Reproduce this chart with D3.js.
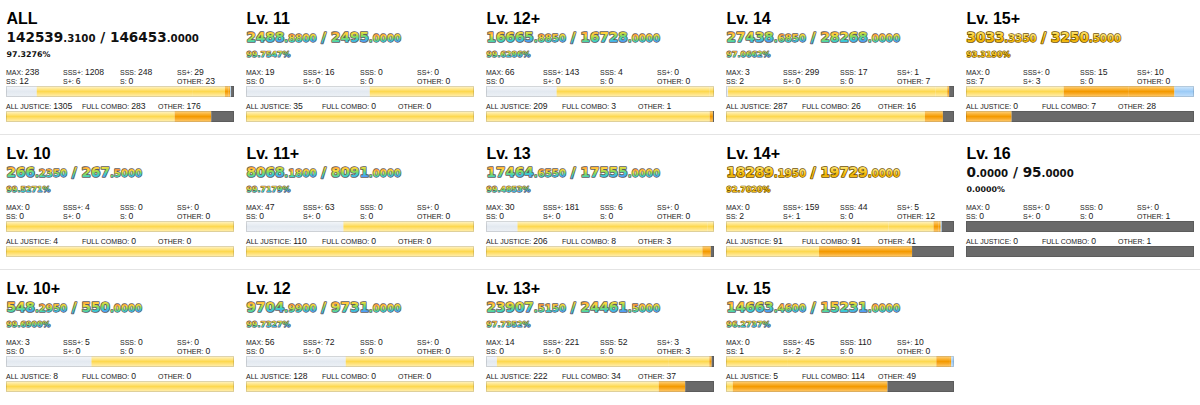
<!DOCTYPE html>
<html><head><meta charset="utf-8">
<script src="https://cdn.jsdelivr.net/npm/d3@7"></script>
<style>
html,body{margin:0;padding:0;background:#fff;}
svg{display:block;}
text{white-space:pre;}
</style></head><body>
<svg id="chart" width="1200" height="405"></svg>
<script>
// ---------- data ----------
const levels     = ["ALL","Lv. 11","Lv. 12+","Lv. 14","Lv. 15+","Lv. 10","Lv. 11+","Lv. 13","Lv. 14+","Lv. 16","Lv. 10+","Lv. 12","Lv. 13+","Lv. 15"];
const scores     = ["142539.3100","2488.8800","16665.8850","27438.6850","3033.3350","266.2350","8068.1800","17464.6550","18289.1950","0.0000","548.2950","9704.9900","23907.5150","14663.4600"];
const maxScores  = ["146453.0000","2495.0000","16728.0000","28268.0000","3250.5000","267.5000","8091.0000","17555.0000","19729.0000","95.0000","550.0000","9731.0000","24461.5000","15231.0000"];
const percents   = ["97.3276%","99.7547%","99.6286%","97.0662%","93.3190%","99.5271%","99.7179%","99.4853%","92.7020%","0.0000%","99.6900%","99.7327%","97.7352%","96.2737%"];
const textStyles = ["plain","rainbow","rainbow","rainbow","gold","rainbow","rainbow","rainbow","gold","plain","rainbow","rainbow","rainbow","rainbow"];

const rankLabels = ["MAX","SSS+","SSS","SS+","SS","S+","S","OTHER"];
const rankMAX    = [238,19,66,3,0,0,47,30,0,0,3,56,14,0];
const rankSSSp   = [1208,16,143,299,0,4,63,181,159,0,5,72,221,45];
const rankSSS    = [248,0,4,17,15,0,0,6,44,0,0,0,52,110];
const rankSSp    = [29,0,0,1,10,0,0,0,5,0,0,0,3,10];
const rankSS     = [12,0,0,2,7,0,0,0,2,0,0,0,0,1];
const rankSp     = [6,0,0,0,3,0,0,0,1,0,0,0,0,2];
const rankS      = [0,0,0,0,0,0,0,0,0,0,0,0,0,0];
const rankOTHER  = [23,0,0,7,0,0,0,0,12,1,0,0,3,0];
const rankColors = ["gBlue","gYellow","gYellow","gOrange","gOrange","gSky","gGreen","gGray"];

const lampLabels = ["ALL JUSTICE","FULL COMBO","OTHER"];
const lampAJ     = [1305,35,209,287,0,4,110,206,91,0,8,128,222,5];
const lampFC     = [283,0,3,26,7,0,0,8,91,0,0,0,34,114];
const lampOTHER  = [176,0,1,16,28,0,0,3,41,1,0,0,37,49];
const lampColors = ["gYellow","gOrange","gGray"];

// ---------- layout ----------
const svg = d3.select("#chart");
const colW = 240, rowH = 135, nCols = 5;
const barX0 = 6, barX1 = 234, barH = 11;

const defs = svg.append("defs");
function vGrad(id, stops){
  const g = defs.append("linearGradient").attr("id", id).attr("x1",0).attr("y1",0).attr("x2",0).attr("y2",1);
  stops.forEach(s => g.append("stop").attr("offset", s[0]).attr("stop-color", s[1]));
}
vGrad("gYellow", [[0,"#fff6d2"],[0.3,"#ffe584"],[0.5,"#fdd850"],[0.7,"#ffe27a"],[1,"#fff1bc"]]);
vGrad("gOrange", [[0,"#ffd585"],[0.3,"#f9b030"],[0.5,"#f49a00"],[0.7,"#f8aa28"],[1,"#ffd07a"]]);
vGrad("gBlue",   [[0,"#f5f8fb"],[0.5,"#e3e9f0"],[1,"#edf1f6"]]);
vGrad("gSky",    [[0,"#d4eafd"],[0.5,"#9ccbf6"],[1,"#c6e1fb"]]);
vGrad("gGreen",  [[0,"#d8f5c8"],[0.5,"#8fd86a"],[1,"#cdeebb"]]);
vGrad("gGray",   [[0,"#6a6a6a"],[1,"#6a6a6a"]]);
(function(){
  const g = defs.append("linearGradient").attr("id","gRainbow").attr("x1",0).attr("y1",0).attr("x2",0.3).attr("y2",1);
  [[0,"#ff4f4f"],[0.2,"#ff9a3a"],[0.4,"#ffd83a"],[0.6,"#8edc52"],[0.8,"#38cdd0"],[1,"#5b8dff"]]
    .forEach(s => g.append("stop").attr("offset", s[0]).attr("stop-color", s[1]));
  const h = defs.append("linearGradient").attr("id","gGold").attr("x1",0).attr("y1",0).attr("x2",0).attr("y2",1);
  [[0,"#fff0a0"],[0.45,"#f8cc2a"],[0.7,"#eeb000"],[1,"#ffd95a"]]
    .forEach(s => h.append("stop").attr("offset", s[0]).attr("stop-color", s[1]));
})();

function styleText(sel, style, sw){
  if (style === "rainbow") sel.attr("fill","url(#gRainbow)").attr("stroke","#5e5e5e").attr("stroke-width",sw).attr("paint-order","stroke").attr("stroke-linejoin","round");
  else if (style === "gold") sel.attr("fill","url(#gGold)").attr("stroke","#6e5000").attr("stroke-width",sw).attr("paint-order","stroke").attr("stroke-linejoin","round");
  else sel.attr("fill","#111");
}

// separators
[1,2].forEach(r => svg.append("line").attr("x1",0).attr("x2",1200)
  .attr("y1", r*rowH - 0.5).attr("y2", r*rowH - 0.5).attr("stroke","#e4e4e4").attr("stroke-width",1));

const scoreFont = "'DejaVu Sans', Verdana, sans-serif";
const uiFont = "'Liberation Sans', Arial, Helvetica, sans-serif";

levels.forEach((lv, i) => {
  const col = i % nCols, row = Math.floor(i / nCols);
  const g = svg.append("g").attr("transform", `translate(${col*colW},${row*rowH})`);
  const st = textStyles[i];

  // title
  g.append("text").attr("x",6.5).attr("y",23.5).attr("font-family",uiFont).attr("font-weight","bold")
    .attr("font-size",16).attr("fill","#000").text(lv);

  // score line
  const [si, sd] = scores[i].split(".");
  const [mi, md] = maxScores[i].split(".");
  const pieces = [[si,13.6],["."+sd,10.2],[" / ",13.6],[mi,13.6],["."+md,10.2]];
  let x = 6.5;
  pieces.forEach(p => {
    const t = g.append("text").attr("x",x).attr("y",42).attr("font-family",scoreFont).attr("font-weight","bold")
      .attr("font-size",p[1]).text(p[0]);
    styleText(t, st, p[1] > 11 ? 1.6 : 1.3);
    x += t.node().getComputedTextLength();
  });

  // percent
  const pt = g.append("text").attr("x",6.5).attr("y",56.5).attr("font-family",scoreFont).attr("font-weight","bold")
    .attr("font-size",7.9).text(percents[i]);
  styleText(pt, st, 1.1);

  // rank stats
  const rankVals = [rankMAX[i],rankSSSp[i],rankSSS[i],rankSSp[i],rankSS[i],rankSp[i],rankS[i],rankOTHER[i]];
  const statCols = [6,63,120,177];
  rankLabels.forEach((lab, k) => {
    const t = g.append("text").attr("x", statCols[k%4]).attr("y", k < 4 ? 75 : 83.5)
      .attr("font-family", uiFont).attr("fill","#1a1a1a");
    t.append("tspan").attr("font-size",7).text(lab + ": ");
    t.append("tspan").attr("font-size",8.6).text(rankVals[k]);
  });

  function drawBar(vals, colors, y){
    const total = d3.sum(vals);
    const xs = d3.scaleLinear().domain([0,total]).range([barX0, barX1]);
    const cum = d3.cumsum([0].concat(vals));
    const segs = vals.map((v,k) => ({v, c: colors[k], a: cum[k], b: cum[k+1]})).filter(d => d.v > 0);
    g.append("rect").attr("x",barX0).attr("y",y).attr("width",barX1-barX0).attr("height",barH).attr("fill","#f2f2f2");
    g.selectAll(null).data(segs).enter().append("rect")
      .attr("x", d => xs(d.a)).attr("y", y).attr("width", d => xs(d.b) - xs(d.a)).attr("height", barH)
      .attr("fill", d => `url(#${d.c})`);
    g.append("rect").attr("x",barX0+0.5).attr("y",y+0.5).attr("width",barX1-barX0-1).attr("height",barH-1)
      .attr("fill","none").attr("stroke","rgba(0,0,0,0.13)").attr("stroke-width",1);
  }
  drawBar(rankVals, rankColors, 86);

  // lamp stats
  const lampVals = [lampAJ[i], lampFC[i], lampOTHER[i]];
  const lampCols = [6,82,158];
  lampLabels.forEach((lab,k) => {
    const t = g.append("text").attr("x", lampCols[k]).attr("y", 108.5).attr("font-family", uiFont).attr("fill","#1a1a1a");
    t.append("tspan").attr("font-size",7).text(lab + ": ");
    t.append("tspan").attr("font-size",8.6).text(lampVals[k]);
  });
  drawBar(lampVals, lampColors, 111);
});
</script>
</body></html>
